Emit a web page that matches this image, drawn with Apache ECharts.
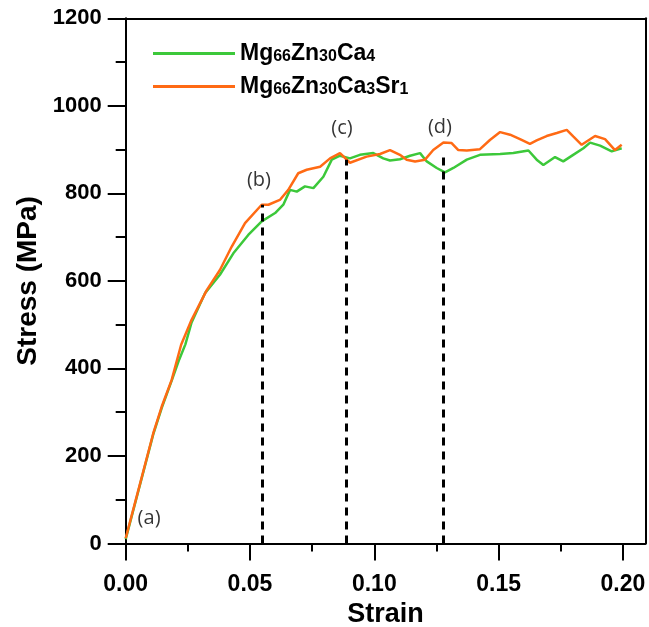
<!DOCTYPE html>
<html>
<head>
<meta charset="utf-8">
<script src="https://cdn.jsdelivr.net/npm/echarts@6/dist/echarts.min.js"></script>
<style>
  html, body { margin: 0; padding: 0; background: #fff; }
  #chart { width: 649px; height: 627px; }
</style>
</head>
<body>
<div id="chart"></div>
<script>
// [strain, stress MPa]
var curveCa4 = [
  [0, 10], [0.0044, 105], [0.0111, 250], [0.0145, 310], [0.0185, 372], [0.0215, 420],
  [0.0240, 455], [0.0265, 505], [0.0319, 572], [0.0379, 614], [0.0433, 663], [0.0493, 705],
  [0.0547, 736], [0.0601, 755], [0.0634, 774], [0.0661, 808], [0.0688, 804], [0.0721, 816],
  [0.0755, 812], [0.0795, 838], [0.0829, 877], [0.0862, 886], [0.0902, 880], [0.0942, 888],
  [0.0996, 892], [0.1036, 880], [0.1063, 875], [0.1103, 878], [0.1144, 886], [0.1184, 892],
  [0.1211, 873], [0.1251, 858], [0.1284, 848], [0.1318, 858], [0.1372, 877], [0.1425, 888],
  [0.1506, 890], [0.1559, 892], [0.1620, 898], [0.1653, 877], [0.1680, 865], [0.1727, 883],
  [0.1760, 873], [0.1800, 888], [0.1841, 903], [0.1868, 916], [0.1908, 909], [0.1955, 896],
  [0.1995, 903]
];
var curveSr1 = [
  [0, 12], [0.0044, 107], [0.0111, 252], [0.0145, 313], [0.0185, 374], [0.0223, 454],
  [0.0265, 511], [0.0326, 579], [0.0379, 625], [0.0426, 678], [0.0480, 732], [0.0547, 774],
  [0.0574, 774], [0.0620, 785], [0.0654, 808], [0.0694, 846], [0.0728, 854], [0.0782, 861],
  [0.0822, 880], [0.0862, 892], [0.0902, 870], [0.0969, 884], [0.1023, 890], [0.1063, 899],
  [0.1103, 888], [0.1130, 877], [0.1164, 873], [0.1204, 877], [0.1237, 899], [0.1278, 916],
  [0.1311, 915], [0.1338, 899], [0.1372, 898], [0.1425, 901], [0.1465, 922], [0.1506, 940],
  [0.1546, 934], [0.1586, 924], [0.1626, 913], [0.1653, 921], [0.1693, 931], [0.1734, 938],
  [0.1774, 945], [0.1800, 930], [0.1834, 911], [0.1888, 931], [0.1928, 924], [0.1968, 899],
  [0.1995, 911]
];
var seriesNames = ["Mg66Zn30Ca4", "Mg66Zn30Ca3Sr1"];
var legendLabels = ["Mg{s|66}Zn{s|30}Ca{s|4}", "Mg{s|66}Zn{s|30}Ca{s|3}Sr{s|1}"];

// dashed markers (b), (c), (d)
var dashStrain = [0.055, 0.0886, 0.1276];
var dashTop = [774, 877, 895];

// stage labels
var stageText = ["(a)", "(b)", "(c)", "(d)"];
var stagePos = [[0.0094, 58], [0.0536, 831], [0.0870, 949], [0.1264, 952]];

var xMajor = [0, 0.05, 0.10, 0.15, 0.20];
var xMinor = [0.025, 0.075, 0.125, 0.175];
var yMajor = [0, 200, 400, 600, 800, 1000, 1200];
var yMinor = [100, 300, 500, 700, 900, 1100];

var xMax = 0.209;
var font = "Liberation Sans";
var green = "#3cc83a";
var orange = "#ff6a14";

var chart = echarts.init(document.getElementById("chart"));

var dashLines = dashStrain.map(function (x, i) {
  return [{ coord: [x, 0] }, { coord: [x, dashTop[i]] }];
});
var stageData = stagePos.map(function (p, i) {
  return [p[0], p[1], stageText[i]];
});

var axisLine = { show: true, onZero: false, lineStyle: { color: "#000", width: 2 } };

var option = {
  animation: false,
  grid: { left: 125.7, right: 3.7, top: 18.3, bottom: 83.5, outerBoundsMode: "none", containLabel: false },
  legend: {
    data: seriesNames,
    orient: "vertical",
    left: 148,
    top: 37,
    icon: "path://M0,0H82V3H0Z",
    itemWidth: 82,
    itemHeight: 3,
    itemGap: 10,
    formatter: function (name) {
      return legendLabels[seriesNames.indexOf(name)];
    },
    textStyle: {
      fontFamily: font,
      fontWeight: "bold",
      fontSize: 23,
      color: "#000",
      rich: {
        s: { fontFamily: font, fontWeight: "bold", fontSize: 16, color: "#000", verticalAlign: "bottom" }
      }
    }
  },
  xAxis: [
    {
      type: "value",
      min: 0,
      max: xMax,
      position: "bottom",
      name: "Strain",
      nameLocation: "middle",
      nameGap: 52,
      nameTextStyle: { fontFamily: font, fontWeight: "bold", fontSize: 27, color: "#000" },
      axisLine: axisLine,
      axisTick: { show: true, customValues: xMajor, length: 17, lineStyle: { color: "#000", width: 2 } },
      axisLabel: {
        customValues: xMajor,
        margin: 30,
        fontFamily: font,
        fontWeight: "bold",
        fontSize: 23,
        color: "#000",
        formatter: function (v) { return v.toFixed(2); }
      },
      splitLine: { show: false }
    },
    {
      type: "value",
      min: 0,
      max: xMax,
      position: "bottom",
      axisLine: { show: false },
      axisTick: { show: true, customValues: xMinor, length: 8, lineStyle: { color: "#000", width: 2 } },
      axisLabel: { show: false },
      splitLine: { show: false }
    },
    {
      type: "value",
      min: 0,
      max: xMax,
      position: "top",
      axisLine: axisLine,
      axisTick: { show: false },
      axisLabel: { show: false },
      splitLine: { show: false }
    }
  ],
  yAxis: [
    {
      type: "value",
      min: 0,
      max: 1200,
      interval: 200,
      position: "left",
      name: "Stress (MPa)",
      nameLocation: "middle",
      nameGap: 78,
      nameTextStyle: { fontFamily: font, fontWeight: "bold", fontSize: 28, color: "#000" },
      axisLine: axisLine,
      axisTick: { show: true, customValues: yMajor, length: 18, lineStyle: { color: "#000", width: 2 } },
      axisLabel: {
        customValues: yMajor,
        margin: 24,
        fontFamily: font,
        fontWeight: "bold",
        fontSize: 22,
        color: "#000",
        formatter: function (v) { return String(v); }
      },
      splitLine: { show: false }
    },
    {
      type: "value",
      min: 0,
      max: 1200,
      position: "left",
      axisLine: { show: false },
      axisTick: { show: true, customValues: yMinor, length: 10, lineStyle: { color: "#000", width: 2 } },
      axisLabel: { show: false },
      splitLine: { show: false }
    },
    {
      type: "value",
      min: 0,
      max: 1200,
      position: "right",
      axisLine: axisLine,
      axisTick: { show: false },
      axisLabel: { show: false },
      splitLine: { show: false }
    }
  ],
  series: [
    {
      name: seriesNames[0],
      type: "line",
      data: curveCa4,
      symbol: "none",
      color: green,
      lineStyle: { width: 2.5, color: green },
      z: 3
    },
    {
      name: seriesNames[1],
      type: "line",
      data: curveSr1,
      symbol: "none",
      color: orange,
      lineStyle: { width: 2.5, color: orange },
      z: 4
    },
    {
      name: "marks",
      type: "line",
      data: [],
      markLine: {
        silent: true,
        symbol: "none",
        label: { show: false },
        lineStyle: { color: "#000", width: 3, type: [8, 6] },
        data: dashLines
      }
    },
    {
      name: "stages",
      type: "scatter",
      data: stageData,
      symbolSize: 0,
      label: {
        show: true,
        position: "inside",
        formatter: function (p) { return p.value[2]; },
        fontFamily: "Open Sans",
        fontSize: 20,
        color: "#000"
      }
    }
  ]
};

chart.setOption(option);
</script>
</body>
</html>
